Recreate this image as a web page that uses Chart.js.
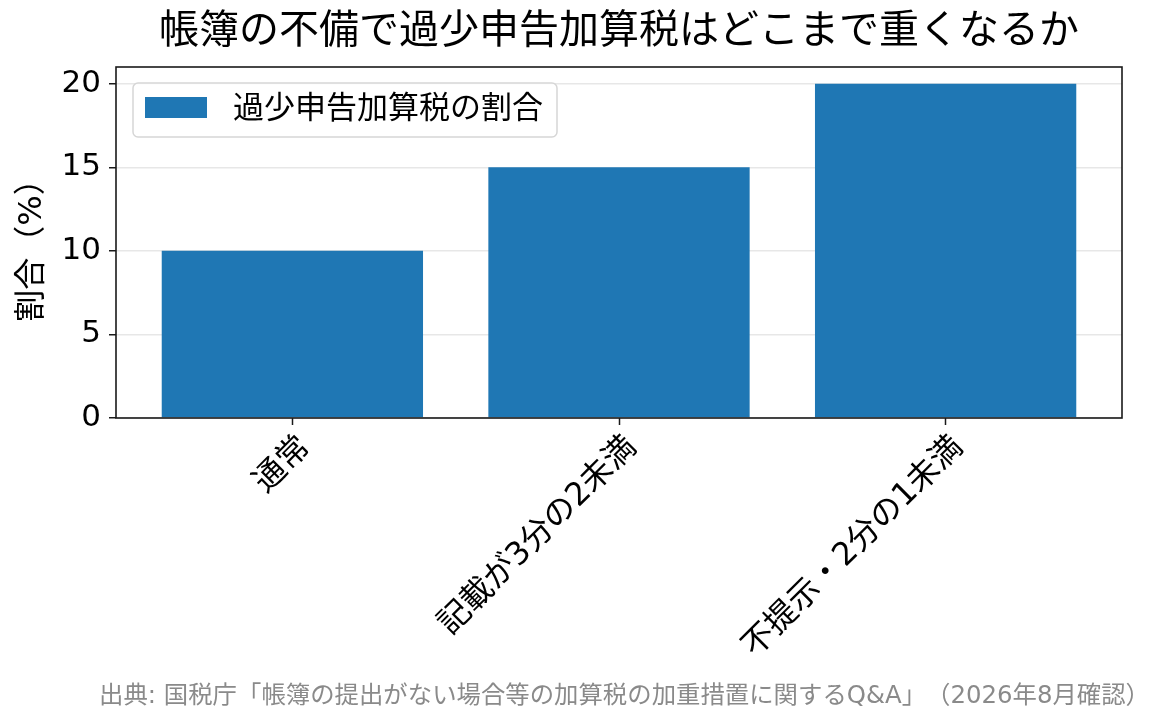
<!DOCTYPE html>
<html>
<head>
<meta charset="utf-8">
<script src="https://cdn.jsdelivr.net/npm/chart.js@4.4.1/dist/chart.umd.min.js"></script>
<style>
html,body{margin:0;padding:0;background:#fff;}
#wrap{width:1165px;height:725px;position:relative;}
canvas{text-spacing-trim: space-all;}
</style>
</head>
<body>
<div id="wrap"><canvas id="c" width="1165" height="725"></canvas></div>
<script>
const categories = ['通常', '記載が3分の2未満', '不提示・2分の1未満'];
const values = [10, 15, 20];
const seriesLabel = '過少申告加算税の割合';
const yTicks = [0, 5, 10, 15, 20];
const titleText = '帳簿の不備で過少申告加算税はどこまで重くなるか';
const yAxisTitle = '割合（%）';
const sourceMain = '出典: 国税庁「帳簿の提出がない場合等の加算税の加重措置に関するQ&A」';
const sourceDate = '（2026年8月確認）';

const FONT = '"DejaVu Sans", "Noto Sans CJK JP", sans-serif';
const BAR = '#1f77b4';

const decor = {
  id: 'decor',
  afterDraw(chart) {
    const ctx = chart.ctx;
    const a = chart.chartArea;
    ctx.save();
    // frame (all four spines)
    ctx.strokeStyle = '#1a1a1a';
    ctx.lineWidth = 1.6;
    ctx.strokeRect(a.left, a.top, a.right - a.left, a.bottom - a.top);
    // legend
    const lx = a.left + 17, ly = a.top + 16;
    ctx.font = '31px ' + FONT;
    const tw = ctx.measureText(seriesLabel).width;
    const lw = 12 + 62 + 26 + tw + 14, lh = 54;
    ctx.beginPath();
    if (ctx.roundRect) ctx.roundRect(lx, ly, lw, lh, 5); else ctx.rect(lx, ly, lw, lh);
    ctx.fillStyle = 'rgba(255,255,255,0.8)';
    ctx.fill();
    ctx.strokeStyle = '#d6d6d6';
    ctx.lineWidth = 1.5;
    ctx.stroke();
    ctx.fillStyle = BAR;
    ctx.fillRect(lx + 12, ly + 14, 62, 21);
    ctx.fillStyle = '#000';
    ctx.textAlign = 'left';
    ctx.textBaseline = 'middle';
    ctx.fillText(seriesLabel, lx + 12 + 62 + 26, ly + lh / 2);
    // title
    ctx.font = '40px ' + FONT;
    ctx.textAlign = 'center';
    ctx.fillText(titleText, (a.left + a.right) / 2, 33);
    // source (two runs so the full-width bracket spacing is kept)
    ctx.font = '24.4px ' + FONT;
    ctx.fillStyle = '#8a8a8a';
    ctx.textAlign = 'right';
    const rx = 1150;
    ctx.fillText(sourceDate, rx, 697);
    const dw = ctx.measureText(sourceDate).width;
    ctx.fillText(sourceMain, rx - dw, 697);
    ctx.restore();
  }
};

new Chart(document.getElementById('c'), {
  type: 'bar',
  data: {
    datasets: [{
      label: seriesLabel,
      data: categories.map((c, i) => ({ x: i, y: values[i] })),
      backgroundColor: BAR,
      borderWidth: 0,
      barPercentage: 0.8,
      categoryPercentage: 1.0
    }]
  },
  options: {
    responsive: false,
    animation: false,
    devicePixelRatio: 1,
    layout: { padding: { top: 67, right: 43, left: 0, bottom: 0 } },
    plugins: { legend: { display: false }, tooltip: { enabled: false }, title: { display: false } },
    scales: {
      x: {
        type: 'linear',
        min: -0.54,
        max: 2.54,
        offset: false,
        afterBuildTicks(s) { s.ticks = categories.map((c, i) => ({ value: i })); },
        afterFit(s) { s.height = 307; },
        ticks: {
          autoSkip: false,
          minRotation: 45,
          maxRotation: 45,
          padding: 4,
          labelOffset: 13,
          color: '#000',
          font: { family: FONT, size: 32 },
          callback: (v) => categories[v]
        },
        grid: { display: true, offset: false, drawOnChartArea: false, drawTicks: true, tickLength: 7, tickColor: '#1a1a1a', tickWidth: 1.5 },
        border: { display: false }
      },
      y: {
        min: 0,
        max: 21,
        z: 1,
        afterBuildTicks(s) { s.ticks = yTicks.map(v => ({ value: v })); },
        afterFit(s) { s.width = 116; },
        ticks: { color: '#000', padding: 8, font: { family: FONT, size: 31 } },
        grid: { color: 'rgba(176,176,176,0.3)', lineWidth: 1.5, drawTicks: true, tickLength: 7, tickColor: '#1a1a1a', tickWidth: 1.5 },
        border: { display: false },
        title: { display: true, text: yAxisTitle, color: '#000', padding: { top: 13, bottom: 0 }, font: { family: FONT, size: 32 } }
      }
    }
  },
  plugins: [decor]
});
</script>
</body>
</html>
